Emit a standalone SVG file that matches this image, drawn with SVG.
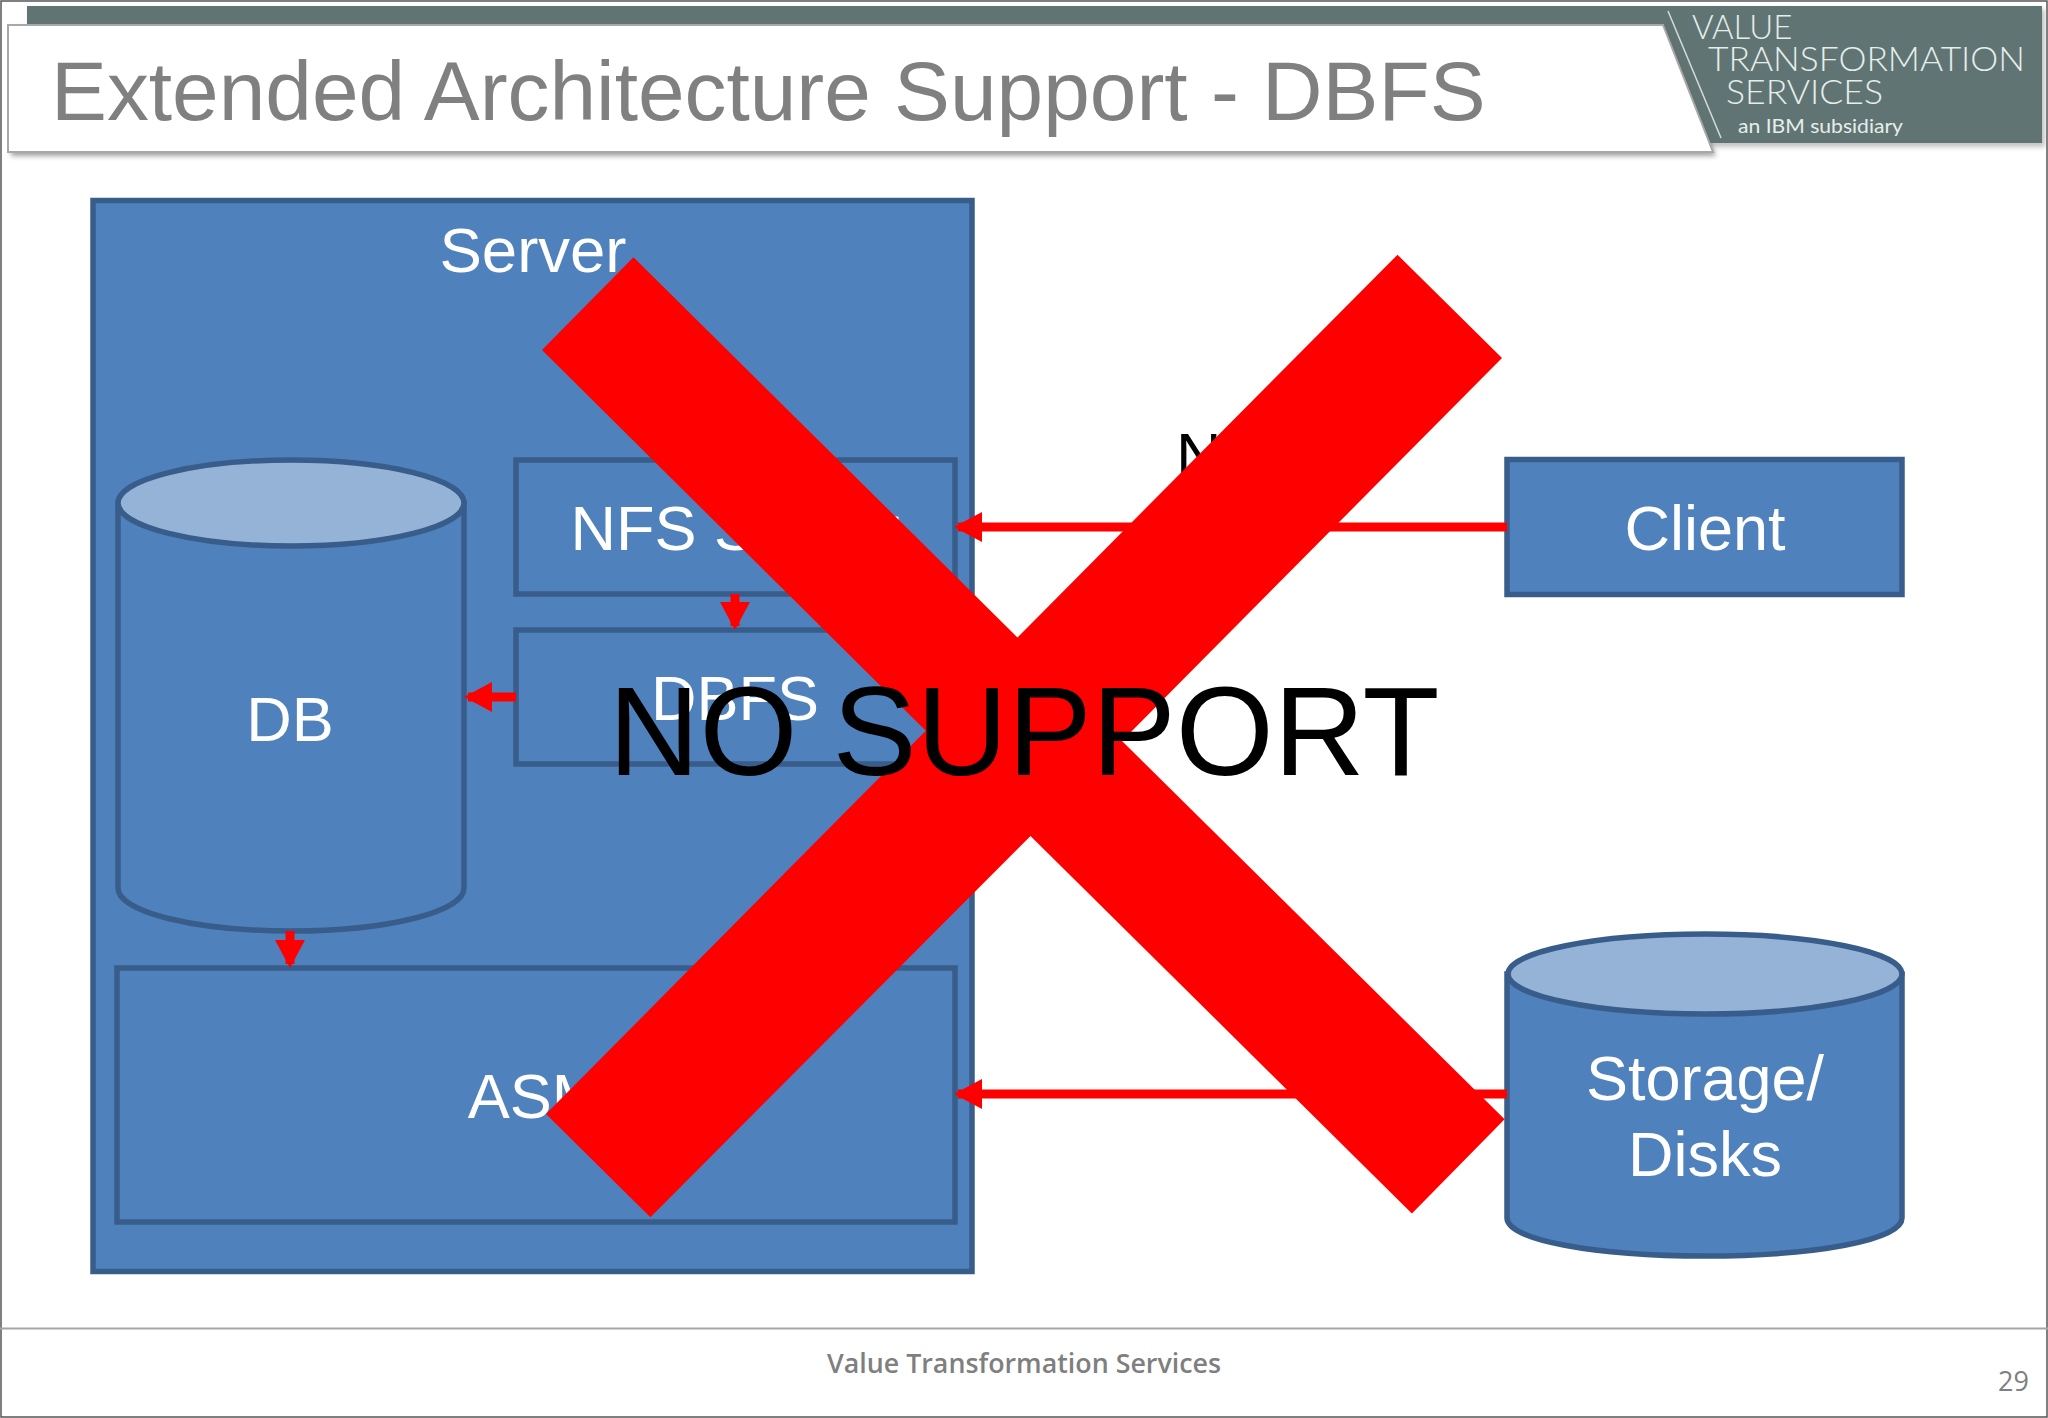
<svg xmlns="http://www.w3.org/2000/svg" width="2048" height="1418" viewBox="0 0 2048 1418">
<style>
.node{fill:#4F81BD;stroke:#385D8A;stroke-width:5.500}
.top{fill:#95B3D7;stroke:#385D8A;stroke-width:5.500}
.lbl{font-family:"Liberation Sans",Arial,sans-serif;font-size:63px;fill:#fff;text-anchor:middle}
.conn{stroke:#f00;stroke-width:9;fill:none;marker-end:url(#arr)}
.logo{font-family:Lato,"Open Sans",sans-serif;font-weight:300;fill:#e6eeec}
</style>
<defs>
<marker id="arr" markerUnits="userSpaceOnUse" markerWidth="28" markerHeight="30" refX="24" refY="15" orient="auto"><path d="M0 0L28 15L0 30z" fill="#f00"/></marker>
<filter id="sh" x="-2%" y="-10%" width="104%" height="125%"><feGaussianBlur stdDeviation="2.5"/></filter>
</defs>
<rect width="2048" height="1418" fill="#fff"/>
<path d="M1 1H2047V1417H1z" fill="none" stroke="#555" stroke-width="1.500"/>
<g id="header">
<rect x="30" y="9" width="2015" height="138" fill="#888" opacity=".5" filter="url(#sh)"/>
<rect x="27" y="6" width="2015" height="137" fill="#607573"/>
<path d="M11 28H1666L1716 156H11z" fill="#666" opacity=".6" filter="url(#sh)"/>
<path d="M8 25H1663L1713 152H8z" fill="#fff" stroke="#a8a8a8" stroke-width="2"/>
<path d="M1668 11L1721 138" fill="none" stroke="#d4dcdb" stroke-width="1.500"/>
<text x="51" y="120" font-family="Liberation Sans,Arial,sans-serif" font-size="83.800" fill="#808080">Extended Architecture Support - DBFS</text>
<text class="logo" x="1692" y="39" font-size="33">VALUE</text>
<text class="logo" x="1708" y="71" font-size="33" textLength="317" lengthAdjust="spacingAndGlyphs">TRANSFORMATION</text>
<text class="logo" x="1726" y="104" font-size="33" textLength="157" lengthAdjust="spacingAndGlyphs">SERVICES</text>
<text class="logo" x="1738" y="133" font-size="19" textLength="165" lengthAdjust="spacingAndGlyphs" style="font-weight:400">an IBM subsidiary</text>
</g>
<g id="server"><rect class="node" x="93" y="200.500" width="879" height="1071"/><text class="lbl" x="533" y="272" style="font-size:63.500px">Server</text></g>
<g id="db"><path class="node" d="M118 503V888C118 912 195 931 291 931S464 912 464 888V503z"/><ellipse class="top" cx="291" cy="503" rx="173" ry="43"/><text class="lbl" x="290" y="741">DB</text></g>
<g id="nfs-server"><rect class="node" x="516" y="460" width="439" height="134"/><text class="lbl" x="735" y="550">NFS Server</text></g>
<g id="dbfs"><rect class="node" x="516" y="630" width="439" height="134"/><text class="lbl" x="735" y="720">DBFS</text></g>
<g id="asm"><rect class="node" x="117" y="968" width="838" height="254"/><text class="lbl" x="536" y="1118">ASM</text></g>
<g id="client"><rect class="node" x="1507" y="459.500" width="395" height="135"/><text class="lbl" x="1705" y="550">Client</text></g>
<g id="storage"><path class="node" d="M1507 974V1218C1507 1240 1595 1256 1705 1256S1902 1240 1902 1218V974z"/><ellipse class="top" cx="1705" cy="974" rx="197" ry="40"/><text class="lbl" x="1705" y="1100">Storage/</text><text class="lbl" x="1705" y="1176">Disks</text></g>
<g id="connectors">
<line class="conn" x1="1507" y1="527" x2="958" y2="527"/>
<line class="conn" x1="1507" y1="1094" x2="958" y2="1094"/>
<line class="conn" x1="735" y1="594" x2="735" y2="626"/>
<line class="conn" x1="516" y1="697" x2="468" y2="697"/>
<line class="conn" x1="290" y1="931" x2="290" y2="964"/>
</g>
<text id="nfs-label" x="1176" y="477" font-family="Liberation Sans,Arial,sans-serif" font-size="63" fill="#000">NFS</text>
<path id="cross" fill="#f00" d="M633.500 257.300L1017.500 637.400L1397.500 254.700L1502 357.900L1122 741L1504.600 1119.300L1411.900 1213.400L1030.500 835.900L650.400 1217.300L546 1114L925.800 730.800L542 350z"/>
<text id="no-support" x="1024" y="775" font-family="Liberation Sans,Arial,sans-serif" font-size="126" fill="#000" text-anchor="middle">NO SUPPORT</text>
<g id="footer">
<line x1="0" y1="1328.500" x2="2048" y2="1328.500" stroke="#a6a6a6" stroke-width="2"/>
<text x="1024" y="1373" font-family="Open Sans,sans-serif" font-weight="600" font-size="27" fill="#7f7f7f" text-anchor="middle" textLength="394" lengthAdjust="spacingAndGlyphs">Value Transformation Services</text>
<text x="2029" y="1391" font-family="Open Sans,sans-serif" font-size="27" fill="#7f7f7f" text-anchor="end">29</text>
</g>
</svg>
